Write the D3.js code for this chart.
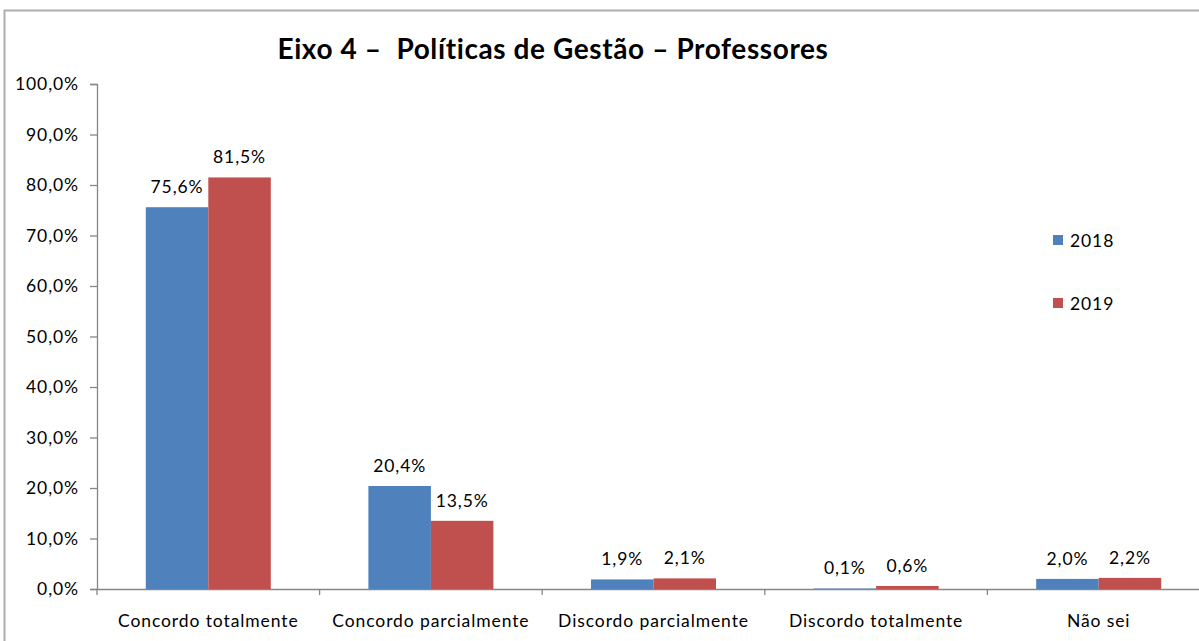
<!DOCTYPE html>
<html><head><meta charset="utf-8">
<script src="https://cdn.jsdelivr.net/npm/d3@7"></script>
<style>body{margin:0;background:#fff}svg{display:block}text{font-family:Lato,"Open Sans",sans-serif;fill:#000}</style>
</head><body>
<script>
const categories = ["Concordo totalmente","Concordo parcialmente","Discordo parcialmente","Discordo totalmente","Não sei"];
const seriesNames = ["2018","2019"];
const values2018 = [75.6, 20.4, 1.9, 0.1, 2.0];
const values2019 = [81.5, 13.5, 2.1, 0.6, 2.2];
const yTicks = [0,10,20,30,40,50,60,70,80,90,100];
const colors = ["#4F81BD","#C0504D"];
const chartTitle = "Eixo 4 –  Políticas de Gestão – Professores";

(function(){
const W = 1199, H = 641;
const FS = 17.5, LS = "0.9px";
const svg = d3.select("body").append("svg").attr("width", W).attr("height", H);
svg.append("rect").attr("x",4.5).attr("y",10.5).attr("width",1220).attr("height",700)
  .attr("fill","none").attr("stroke","#ADADAD").attr("stroke-width",2);

const mLeft = 97, mRight = 1210, mTop = 84, mBottom = 589;
const x = d3.scaleBand().domain(categories).range([mLeft,mRight]).padding(0);
const y = d3.scaleLinear().domain([0,100]).range([mBottom,mTop]);
const bw = x.bandwidth();
const groupW = bw * 0.5616;
const x1 = d3.scaleBand().domain(seriesNames).range([(bw-groupW)/2, (bw+groupW)/2]).padding(0);

const yAxis = d3.axisLeft(y).tickValues(yTicks).tickSize(7).tickPadding(11)
  .tickFormat(d => d.toFixed(1).replace(".",",") + "%");
const gy = svg.append("g").attr("transform",`translate(${mLeft},0)`).call(yAxis);
gy.select(".domain").attr("stroke","#868686").attr("stroke-width",1.3);
gy.selectAll(".tick line").attr("stroke","#868686").attr("stroke-width",1.3);
gy.selectAll(".tick text").attr("font-size",FS).attr("fill","#000")
  .style("font-family","Lato").style("letter-spacing",LS);

const xAxis = d3.axisBottom(x).tickSize(0).tickPadding(26);
const gx = svg.append("g").attr("transform",`translate(0,${mBottom})`).call(xAxis);
gx.select(".domain").attr("stroke","#868686").attr("stroke-width",1.3);
gx.selectAll(".tick text").attr("font-size",FS).attr("fill","#000")
  .style("font-family","Lato").style("letter-spacing",LS);
const bounds = categories.map(c => x(c)).concat([mRight]);
svg.append("g").selectAll("line").data(bounds).join("line")
  .attr("x1",d=>d).attr("x2",d=>d).attr("y1",mBottom).attr("y2",mBottom+6)
  .attr("stroke","#868686").attr("stroke-width",1.3);

const data = categories.map((c,i) => ({c, vals:[values2018[i], values2019[i]]}));
const groups = svg.append("g").selectAll("g").data(data).join("g")
  .attr("transform", d => `translate(${x(d.c)},0)`);
groups.selectAll("rect").data(d => d.vals.map((v,j)=>({v, s:seriesNames[j], j}))).join("rect")
  .attr("x", d => x1(d.s)).attr("width", x1.bandwidth())
  .attr("y", d => y(d.v)).attr("height", d => mBottom - y(d.v))
  .attr("fill", d => colors[d.j]);
groups.selectAll("text").data(d => d.vals.map((v,j)=>({v, s:seriesNames[j], j}))).join("text")
  .attr("x", d => x1(d.s) + x1.bandwidth()/2).attr("y", d => y(d.v) - 14)
  .attr("text-anchor","middle").attr("font-size",FS).style("letter-spacing",LS)
  .text(d => d.v.toFixed(1).replace(".",",") + "%");

svg.append("text").attr("x",553).attr("y",59).attr("text-anchor","middle")
  .attr("font-size",28).attr("font-weight","bold").style("letter-spacing","0.6px")
  .style("white-space","pre").attr("xml:space","preserve").text(chartTitle);

const lg = svg.append("g").selectAll("g").data(seriesNames).join("g")
  .attr("transform",(d,i)=>`translate(1053,${235 + i*63})`);
lg.append("rect").attr("width",10).attr("height",10).attr("fill",(d,i)=>colors[i]);
lg.append("text").attr("x",17).attr("y",11.5).attr("font-size",FS).style("letter-spacing",LS).text(d=>d);
})();
</script>
</body></html>
